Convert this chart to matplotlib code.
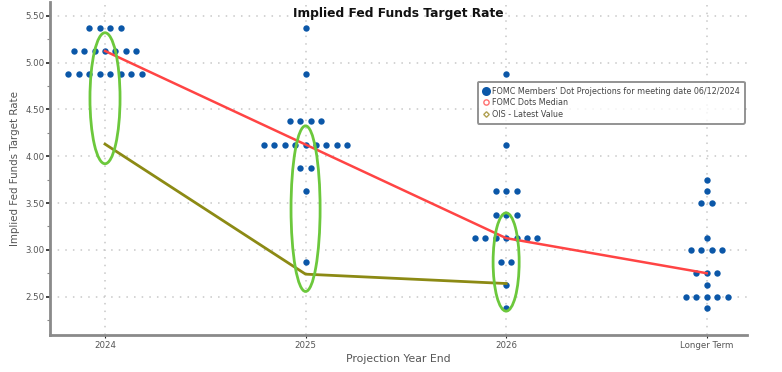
import matplotlib
matplotlib.use("Agg")
import matplotlib.pyplot as plt
from matplotlib.patches import Ellipse
from matplotlib.lines import Line2D
from matplotlib.ticker import MultipleLocator, FormatStrFormatter

# ==============================================================
#  DATA
# ==============================================================
categories = ["2024", "2025", "2026", "Longer Term"]

# dot plot: {rate: number of members}
dots_2024 = {5.375: 4, 5.125: 7, 4.875: 8}
dots_2025 = {5.375: 1, 4.875: 1, 4.375: 4, 4.125: 9, 3.875: 2, 3.625: 1, 2.875: 1}
dots_2026 = {4.875: 1, 4.125: 1, 3.625: 3, 3.375: 3, 3.125: 7, 2.875: 2,
             2.625: 1, 2.375: 1}
dots_lt = {3.75: 1, 3.625: 1, 3.5: 2, 3.125: 1, 3.0: 4, 2.75: 3, 2.625: 1,
           2.5: 5, 2.375: 1}
dot_sets = [dots_2024, dots_2025, dots_2026, dots_lt]

median = [5.125, 4.125, 3.125, 2.75]
ois = [4.13, 2.74, 2.64]

# highlight ellipses: (category index, centre rate, height, width)
ellipses = [(0, 4.62, 1.40, 0.150), (1, 3.44, 1.77, 0.145), (2, 2.87, 1.05, 0.130)]

# ==============================================================
#  STYLE
# ==============================================================
BLUE = "#0b57a8"
RED = "#ff4444"
OLIVE = "#8c8a14"
GREEN = "#6cc83c"
GREY = "#555555"
DOT_STEP = 0.052

fig = plt.figure(figsize=(7.82, 3.72), dpi=100, facecolor="white")
ax = fig.add_axes([0.064, 0.0995, 0.891, 0.8955])

# dots
for i, d in enumerate(dot_sets):
    xs, ys = [], []
    for rate, n in d.items():
        for k in range(n):
            xs.append(i + (k - (n - 1) / 2) * DOT_STEP)
            ys.append(rate)
    ax.plot(xs, ys, "o", color=BLUE, ms=4.6, mec="none", zorder=3)

ax.plot(range(len(median)), median, color=RED, lw=1.8, zorder=4)
ax.plot(range(len(ois)), ois, color=OLIVE, lw=2.0, zorder=4)

for i, yc, h, w in ellipses:
    ax.add_patch(Ellipse((i, yc), w, h, fill=False, ec=GREEN, lw=2.0, zorder=5))

ax.set_xlim(-0.274, 3.2)
ax.set_ylim(2.09, 5.65)
ax.set_xticks(range(len(categories)))
ax.set_xticklabels(categories)
ax.yaxis.set_major_locator(MultipleLocator(0.5))
ax.yaxis.set_minor_locator(MultipleLocator(0.25))
ax.yaxis.set_major_formatter(FormatStrFormatter("%.2f"))

ax.tick_params(axis="both", labelsize=6.2, labelcolor=GREY, colors="#222222")
ax.tick_params(axis="y", length=3, width=1.2, pad=1)
ax.tick_params(axis="y", which="minor", length=2, width=0.8, color="#888888")
ax.tick_params(axis="x", length=2, width=0.8, pad=2)

ax.grid(True, color="#c8c8c8", linestyle=(0, (1, 4)), lw=1.1)
ax.set_axisbelow(True)

for s in ("top", "right"):
    ax.spines[s].set_visible(False)
for s in ("left", "bottom"):
    ax.spines[s].set_color("#8a8a8a")
    ax.spines[s].set_linewidth(2)

ax.set_xlabel("Projection Year End", fontsize=7.8, color=GREY, labelpad=3)
ax.set_ylabel("Implied Fed Funds Target Rate", fontsize=7.4, color=GREY, labelpad=4)

fig.text(0.509, 0.965, "Implied Fed Funds Target Rate", ha="center", va="center",
         fontsize=8.8, fontweight="bold", color="#111111")

handles = [
    Line2D([], [], marker="o", ls="none", color=BLUE, ms=6.5, mec="none"),
    Line2D([], [], marker="o", ls="none", mfc="white", mec="#ff7070", ms=3.8, mew=1),
    Line2D([], [], marker="D", ls="none", mfc="white", mec="#b0a050", ms=2.8, mew=1),
]
labels = [
    "FOMC Members' Dot Projections for meeting date 06/12/2024",
    "FOMC Dots Median",
    "OIS - Latest Value",
]
leg = fig.legend(handles, labels, loc="upper left", bbox_to_anchor=(0.611, 0.780),
                 fontsize=5.8, frameon=True, fancybox=True, handlelength=0.9,
                 handletextpad=0.3, borderpad=0.6, labelspacing=0.32,
                 borderaxespad=0)
leg.get_frame().set_edgecolor("#777777")
leg.get_frame().set_linewidth(1.4)
for t in leg.get_texts():
    t.set_color("#444444")

fig.savefig("out.png", dpi=100, facecolor="white")
